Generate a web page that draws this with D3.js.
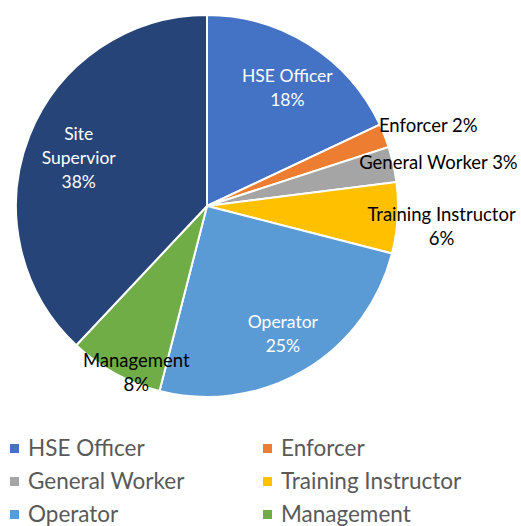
<!DOCTYPE html>
<html>
<head>
<meta charset="utf-8">
<script src="https://cdn.jsdelivr.net/npm/d3@7"></script>
<style>
  body { margin: 0; background: #fff; }
  svg { display: block; font-family: Lato, "Open Sans", sans-serif; }
</style>
</head>
<body>
<svg id="chart"></svg>
<script>
const categories = ["HSE Officer", "Enforcer", "General Worker", "Training Instructor", "Operator", "Management", "Site Supervior"];
const legendNames = ["HSE Officer", "Enforcer", "General Worker", "Training Instructor", "Operator", "Management"];
const values = [18, 2, 3, 6, 25, 8, 38];
const colors = ["#4472C4", "#ED7D31", "#A5A5A5", "#FFC000", "#5B9BD5", "#70AD47", "#264478"];

// label placement: radius from centre, small nudges, anchor, inside (white) or not
const labelCfg = [
    { r: 150, dx: 0, dy: 9, anchor: "middle", inside: true, lines: d => ["HSE Officer", d + "%"] },
    { r: 186, dx: -1, dy: -12, anchor: "start", inside: false, lines: d => ["Enforcer " + d + "%"] },
    { r: 158, dx: -2, dy: -9, anchor: "start", inside: false, lines: d => ["General Worker " + d + "%"] },
    { r: 235, dx: 0, dy: 6, anchor: "middle", inside: false, lines: d => ["Training Instructor", d + "%"] },
    { r: 149, dx: 0, dy: 0, anchor: "middle", inside: true, lines: d => ["Operator", d + "%"] },
    { r: 180, dx: 16, dy: 9, anchor: "middle", inside: false, lines: d => ["Management", d + "%"] },
    { r: 138, dx: 0, dy: 3, anchor: "middle", inside: true, lines: d => ["Site", "Supervior", d + "%"] }
];

const width = 521, height = 526;
const cx = 207, cy = 206, radius = 191;

const svg = d3.select("#chart").attr("width", width).attr("height", height);
const g = svg.append("g").attr("transform", `translate(${cx},${cy})`);

const pie = d3.pie().sort(null).value(d => d);
const arcs = pie(values);
const arc = d3.arc().innerRadius(0).outerRadius(radius);

g.selectAll("path")
    .data(arcs)
    .enter()
    .append("path")
    .attr("d", arc)
    .attr("fill", (d, i) => colors[i])
    .attr("stroke", "#fff")
    .attr("stroke-width", 2);

arcs.forEach((d, i) => {
    const cfg = labelCfg[i];
    const la = d3.arc().innerRadius(cfg.r).outerRadius(cfg.r);
    const [x, y] = la.centroid(d);
    const lines = cfg.lines(values[i]);
    const lh = 24;
    const t = g.append("text")
        .attr("text-anchor", cfg.anchor)
        .attr("font-size", cfg.inside ? 17.5 : 18.5)
        .attr("fill", cfg.inside ? "#fff" : "#000");
    lines.forEach((ln, k) => {
        t.append("tspan")
            .attr("x", x + cfg.dx)
            .attr("y", y + cfg.dy + (k - (lines.length - 1) / 2) * lh + 6)
            .text(ln);
    });
});

// legend
const legend = svg.append("g");
const colX = d3.scaleOrdinal().domain([0, 1]).range([10, 263]);
const rowY = d3.scalePoint().domain([0, 1, 2]).range([448, 514]);
legendNames.forEach((name, i) => {
    const col = i % 2, row = Math.floor(i / 2);
    const item = legend.append("g")
        .attr("transform", `translate(${colX(col)},${rowY(row)})`);
    item.append("rect")
        .attr("x", 0).attr("y", -4)
        .attr("width", 9).attr("height", 9)
        .attr("fill", colors[i]);
    item.append("text")
        .attr("x", 18).attr("y", 8)
        .attr("font-size", 22.5)
        .attr("fill", "#595959")
        .text(name);
});
</script>
</body>
</html>
